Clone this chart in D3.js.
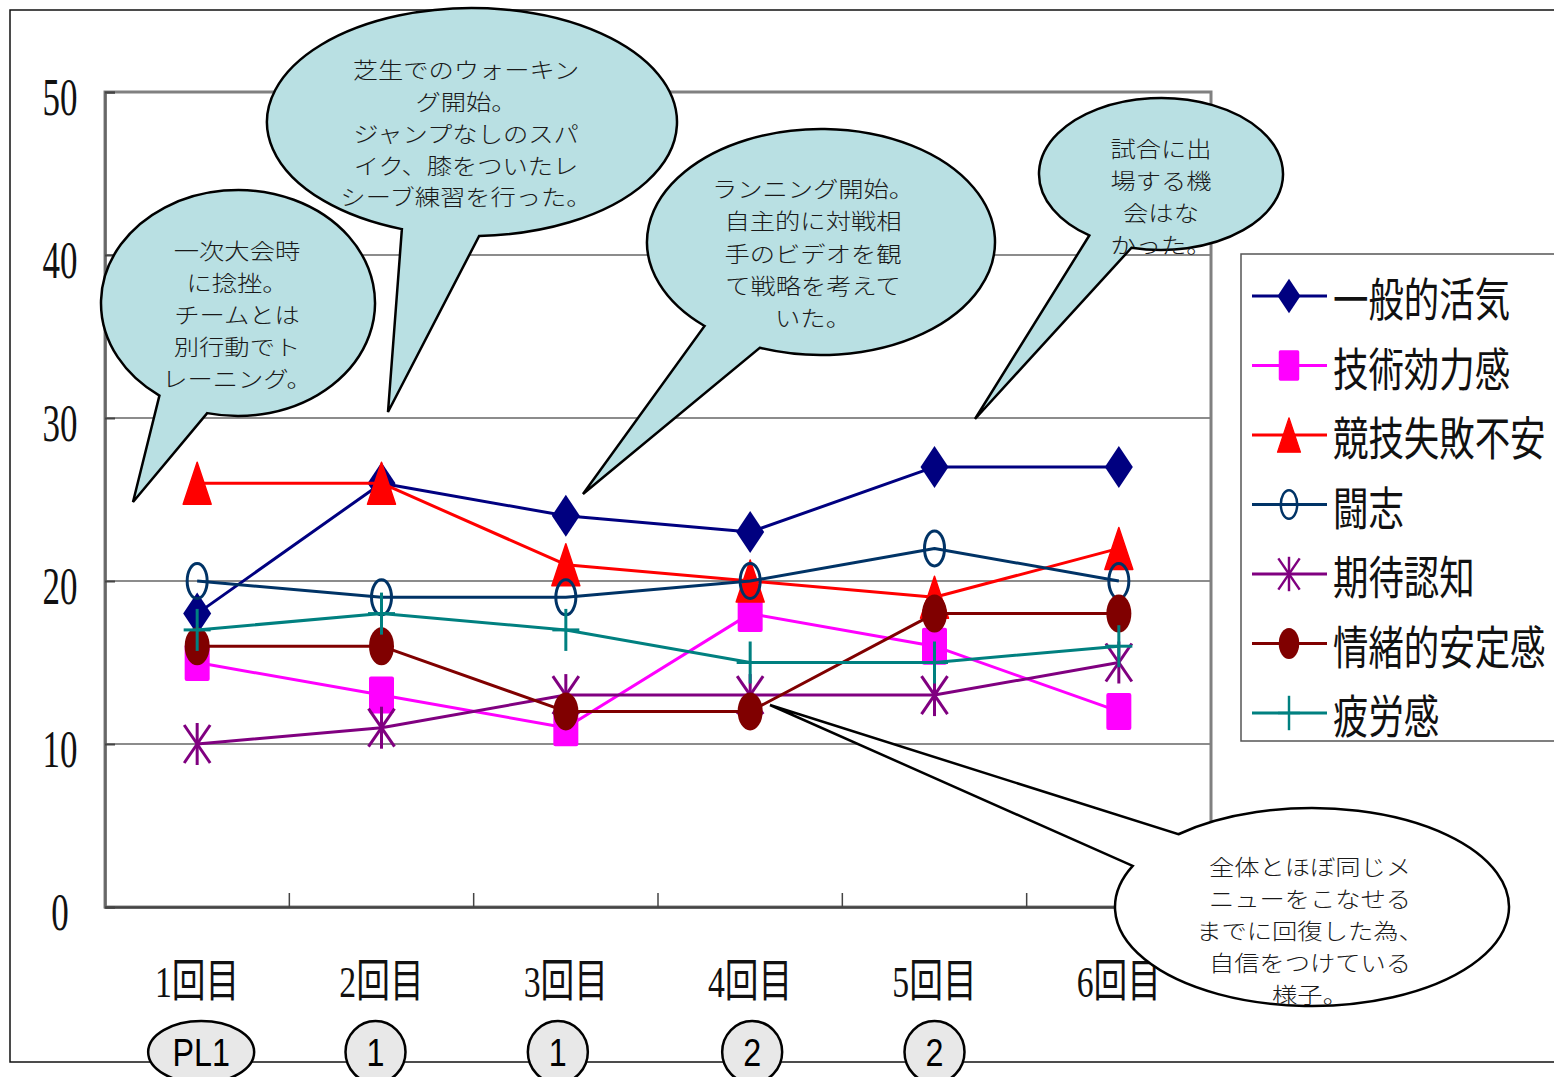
<!DOCTYPE html>
<html>
<head>
<meta charset="utf-8">
<script src="https://cdn.jsdelivr.net/npm/d3@7"></script>
<style>
  body { margin: 0; background: #fff; }
  svg { display: block; }
</style>
</head>
<body>
<svg id="chart" width="1554" height="1077"></svg>
<script>
// ---- data ----
const categories = ["1回目", "2回目", "3回目", "4回目", "5回目", "6回目"];
const seriesNames = ["一般的活気", "技術効力感", "競技失敗不安", "闘志", "期待認知", "情緒的安定感", "疲労感"];
const vitality           = [18, 26, 24, 23, 27, 27];
const techEfficacy       = [15, 13, 11, 18, 16, 12];
const failureAnxiety     = [26, 26, 21, 20, 19, 22];
const fightingSpirit     = [20, 19, 19, 20, 22, 20];
const expectation        = [10, 11, 13, 13, 13, 15];
const emotionalStability = [16, 16, 12, 12, 18, 18];
const fatigue            = [17, 18, 17, 15, 15, 16];
const yTicks = [0, 10, 20, 30, 40, 50];
const phaseLabels = ["PL1", "1", "1", "2", "2"];
const noteTexts = [
  ["一次大会時", "に捻挫。", "チームとは", "別行動でト", "レーニング。"],
  ["芝生でのウォーキン", "グ開始。", "ジャンプなしのスパ", "イク、膝をついたレ", "シーブ練習を行った。"],
  ["ランニング開始。", "自主的に対戦相", "手のビデオを観", "て戦略を考えて", "いた。"],
  ["試合に出", "場する機", "会はな", "かった。"],
  ["全体とほぼ同じメ", "ニューをこなせる", "までに回復した為、", "自信をつけている", "様子。"]
];

const seriesValues = [vitality, techEfficacy, failureAnxiety, fightingSpirit, expectation, emotionalStability, fatigue];

// ---- styling ----
const seriesStyle = [
  { color: "#000080", marker: "diamond" },
  { color: "#FF00FF", marker: "square" },
  { color: "#FF0000", marker: "triangle" },
  { color: "#003366", marker: "ring" },
  { color: "#800080", marker: "star" },
  { color: "#800000", marker: "dot" },
  { color: "#008080", marker: "plus" }
];

const CJK = "'Noto Sans CJK JP', 'Noto Sans CJK SC', sans-serif";
const svg = d3.select("#chart");

// outer frame
svg.append("rect").attr("x", 10).attr("y", 10).attr("width", 1600).attr("height", 1052)
  .attr("fill", "none").attr("stroke", "#111").attr("stroke-width", 1.5);

// ---- scales ----
const plot = { left: 105, right: 1211, top: 92, bottom: 907 };
const x = d3.scaleBand().domain(categories).range([plot.left, plot.right]);
const cx = c => x(c) + x.bandwidth() / 2;
const y = d3.scaleLinear().domain([0, 50]).range([plot.bottom, plot.top]);

// gridlines
svg.append("g").selectAll("line").data(yTicks.filter(t => t > 0 && t < 50)).join("line")
  .attr("x1", plot.left).attr("x2", plot.right)
  .attr("y1", d => y(d)).attr("y2", d => y(d))
  .attr("stroke", "#1a1a1a").attr("stroke-width", 1.2);

// plot frame
svg.append("rect").attr("x", plot.left).attr("y", plot.top)
  .attr("width", plot.right - plot.left).attr("height", plot.bottom - plot.top)
  .attr("fill", "none").attr("stroke", "#808080").attr("stroke-width", 3);

// y axis (ticks pointing inward)
const yAxis = svg.append("g").attr("transform", `translate(${plot.left},0)`)
  .call(d3.axisLeft(y).tickValues(yTicks).tickSize(-10).tickPadding(0));
yAxis.select(".domain").attr("stroke", "#666").attr("stroke-width", 2.5);
yAxis.selectAll(".tick line").attr("stroke", "#444").attr("stroke-width", 2);
const ySX = 0.66;
yAxis.selectAll(".tick text")
  .attr("font-family", "'Liberation Serif', serif").attr("font-size", 53)
  .attr("fill", "#111").attr("text-anchor", "middle")
  .attr("x", -45 / ySX).attr("dy", "0.42em")
  .attr("transform", `scale(${ySX},1)`);

// x axis (ticks between categories, pointing up)
const xAxis = svg.append("g").attr("transform", `translate(0,${plot.bottom})`)
  .call(d3.axisBottom(x).tickSize(0).tickFormat(""));
xAxis.select(".domain").attr("stroke", "#444").attr("stroke-width", 2.5);
svg.append("g").selectAll("line").data(categories.slice(1)).join("line")
  .attr("x1", d => x(d)).attr("x2", d => x(d))
  .attr("y1", plot.bottom).attr("y2", plot.bottom - 14)
  .attr("stroke", "#444").attr("stroke-width", 1.5);

// category labels
const xSX = 0.75;
svg.append("g").selectAll("text").data(categories).join("text")
  .attr("transform", d => `translate(${cx(d)},982) scale(${xSX},1)`)
  .attr("text-anchor", "middle").attr("dominant-baseline", "central")
  .attr("font-family", "'Liberation Serif', 'Noto Sans CJK JP', serif")
  .attr("font-size", 45).attr("fill", "#111")
  .text(d => d);

// ---- markers ----
function drawMarker(g, type, color, s) {
  const m = g.append("g").attr("transform", `scale(${s})`);
  switch (type) {
    case "diamond":
      m.append("path").attr("d", "M0,-21L14,0L0,21L-14,0Z").attr("fill", color); break;
    case "square":
      m.append("rect").attr("x", -12.5).attr("y", -18.5).attr("width", 25).attr("height", 37)
        .attr("rx", 2).attr("fill", color); break;
    case "triangle":
      m.append("path").attr("d", "M0,-21L14,21L-14,21Z").attr("fill", color)
        .attr("stroke", color).attr("stroke-width", 1.5).attr("stroke-linejoin", "round"); break;
    case "ring":
      m.append("ellipse").attr("rx", 10).attr("ry", 17.5).attr("fill", "none")
        .attr("stroke", color).attr("stroke-width", 3); break;
    case "star":
      [[0, -21, 0, 21], [-13, -19, 13, 19], [13, -19, -13, 19]].forEach(p =>
        m.append("line").attr("x1", p[0]).attr("y1", p[1]).attr("x2", p[2]).attr("y2", p[3])
          .attr("stroke", color).attr("stroke-width", 3)); break;
    case "dot":
      m.append("ellipse").attr("rx", 12.5).attr("ry", 19).attr("fill", color); break;
    case "plus":
      [[0, -21, 0, 21], [-13.5, 0, 13.5, 0]].forEach(p =>
        m.append("line").attr("x1", p[0]).attr("y1", p[1]).attr("x2", p[2]).attr("y2", p[3])
          .attr("stroke", color).attr("stroke-width", 3)); break;
  }
}

// ---- series ----
const line = d3.line().x(d => cx(d.c)).y(d => y(d.v));
seriesNames.forEach((name, i) => {
  const st = seriesStyle[i];
  const pts = categories.map((c, j) => ({ c, v: seriesValues[i][j] }));
  const g = svg.append("g");
  g.append("path").attr("d", line(pts)).attr("fill", "none")
    .attr("stroke", st.color).attr("stroke-width", 3).attr("stroke-linejoin", "round");
  pts.forEach(p => {
    drawMarker(g.append("g").attr("transform", `translate(${cx(p.c)},${y(p.v)})`), st.marker, st.color, 1);
  });
});

// ---- speech bubbles ----
const bubbleLayout = [
  { cx: 238, cy: 303, rx: 137, ry: 113, a1: 103, a2: 125, tip: [133, 502], tx: 237, ty: 250, lh: 32, fill: "#B9E0E3" },
  { cx: 472, cy: 122, rx: 205, ry: 114, a1: 88, a2: 110, tip: [388, 412], tx: 466, ty: 69, lh: 31.8, fill: "#B9E0E3" },
  { cx: 821, cy: 242, rx: 174, ry: 113, a1: 110.6, a2: 132, tip: [583, 494], tx: 813, ty: 188, lh: 32.2, fill: "#B9E0E3" },
  { cx: 1161, cy: 174, rx: 122, ry: 76, a1: 104, a2: 126, tip: [975, 419], tx: 1161, ty: 148, lh: 32, fill: "#B9E0E3" },
  { cx: 1312, cy: 907, rx: 197, ry: 99, a1: 204.5, a2: 227.3, tip: [770, 705], tx: 1310, ty: 866, lh: 32, fill: "#FFFFFF" }
];
function bubblePath(b) {
  const P = a => [b.cx + b.rx * Math.cos(a * Math.PI / 180), b.cy + b.ry * Math.sin(a * Math.PI / 180)];
  const p1 = P(b.a1), p2 = P(b.a2);
  return `M${p2[0]},${p2[1]}A${b.rx},${b.ry} 0 1 1 ${p1[0]},${p1[1]}L${b.tip[0]},${b.tip[1]}Z`;
}
// note text: 22px glyphs, stretched slightly wider so each line keeps its full width
const noteSize = 22, noteSX = 1.15;
bubbleLayout.forEach((b, i) => {
  const g = svg.append("g");
  g.append("path").attr("d", bubblePath(b)).attr("fill", b.fill)
    .attr("stroke", "#000").attr("stroke-width", 2.5).attr("stroke-linejoin", "miter");
  g.selectAll("text").data(noteTexts[i]).join("text")
    .attr("transform", (d, k) => `translate(${b.tx},${b.ty + k * b.lh}) scale(${noteSX},1)`)
    .attr("text-anchor", "middle").attr("dominant-baseline", "central")
    .attr("font-family", CJK).attr("font-size", noteSize).attr("font-weight", 300)
    .attr("fill", "#1a1a1a").text(d => d);
});

// ---- phase badges under the categories ----
const badgeShift = [4, -6, -8, 2, 0];
const badges = svg.append("g");
phaseLabels.forEach((lab, i) => {
  const px = cx(categories[i]) + badgeShift[i];
  const wide = lab.length > 1;
  badges.append("ellipse").attr("cx", px).attr("cy", 1052)
    .attr("rx", wide ? 53 : 30).attr("ry", 31)
    .attr("fill", "#E8E8E8").attr("stroke", "#000").attr("stroke-width", 2.5);
  badges.append("text")
    .attr("transform", `translate(${px},1053) scale(0.85,1)`)
    .attr("text-anchor", "middle").attr("dominant-baseline", "central")
    .attr("font-family", "'Liberation Sans', Arial, sans-serif").attr("font-size", 38)
    .attr("fill", "#000").text(lab);
});

// ---- legend ----
const legend = svg.append("g");
legend.append("rect").attr("x", 1241).attr("y", 254).attr("width", 400).attr("height", 487)
  .attr("fill", "#fff").attr("stroke", "#555").attr("stroke-width", 1.5);
seriesNames.forEach((name, i) => {
  const st = seriesStyle[i];
  const ly = 296 + i * 69.5;
  const g = legend.append("g");
  g.append("line").attr("x1", 1252).attr("x2", 1327).attr("y1", ly).attr("y2", ly)
    .attr("stroke", st.color).attr("stroke-width", 3);
  drawMarker(g.append("g").attr("transform", `translate(1289,${ly})`), st.marker, st.color, 0.82);
  g.append("text")
    .attr("transform", `translate(1333,${ly}) scale(0.77,1)`)
    .attr("dominant-baseline", "central")
    .attr("font-family", CJK).attr("font-size", 46).attr("fill", "#111")
    .text(name);
});
</script>
</body>
</html>
